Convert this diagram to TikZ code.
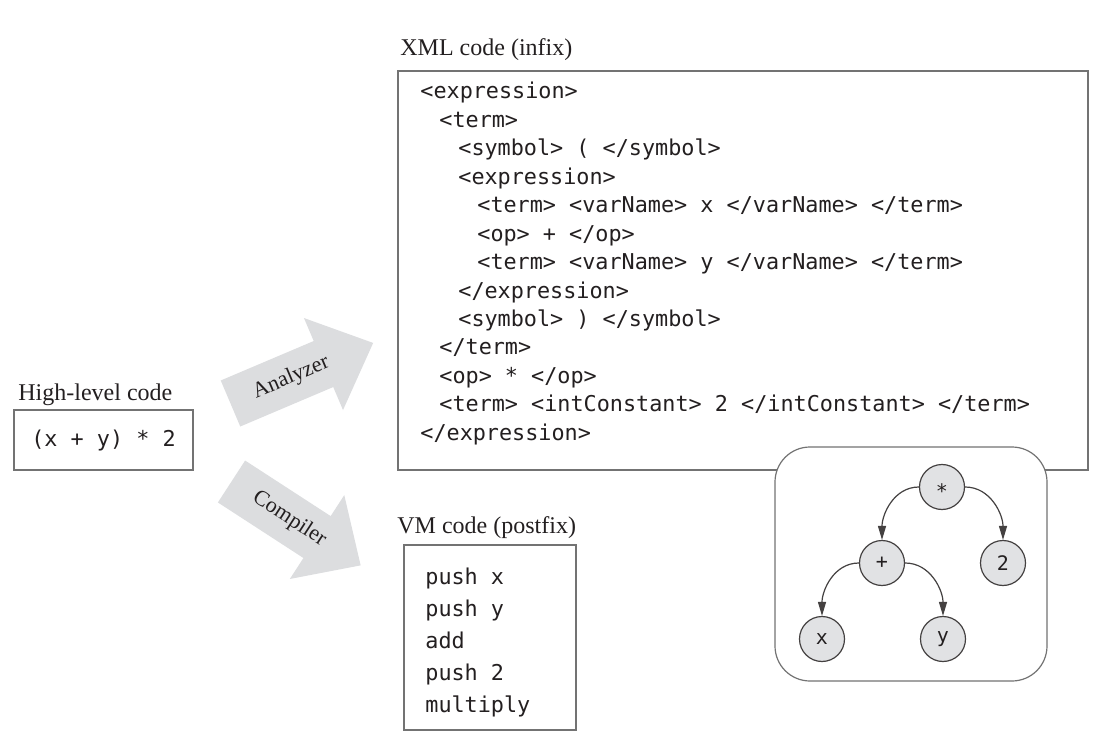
\documentclass[tikz,border=0pt]{standalone}
\usepackage{fontspec}
\setmainfont{Liberation Serif}
\newfontfamily\codefont{DejaVu Sans Mono}
\usetikzlibrary{arrows.meta}

\definecolor{boxgray}{RGB}{115,115,115}
\definecolor{arrowgray}{RGB}{220,221,223}
\definecolor{nodegray}{RGB}{225,226,228}
\definecolor{inkgray}{RGB}{35,31,32}

\tikzset{every picture/.style={line width=0.75pt}}
\tikzset{
	codebox/.style={draw=boxgray, line width=1.2pt, fill=white, inner sep=0pt},
	caption/.style={font=\fontsize{24}{28}\selectfont, text=inkgray, inner sep=0pt, anchor=base west},
	codetext/.style={font=\codefont\fontsize{21.8}{28.45}\selectfont, text=inkgray, align=left, inner sep=0pt, anchor=north west},
	treenode/.style={circle, draw=inkgray!85, fill=nodegray, line width=1.2pt, minimum size=45pt, inner sep=0pt, font=\codefont\fontsize{20}{24}\selectfont, text=inkgray},
	treeedge/.style={-{Triangle[length=14pt,width=8pt]}, draw=inkgray!85, line width=1.2pt},
	bigarrow/.style={fill=arrowgray},
	arrowlabel/.style={font=\fontsize{22}{26}\selectfont, text=inkgray, inner sep=0pt}
}

\begin{document}
\begin{tikzpicture}[x=1pt,y=-1pt]
	\useasboundingbox (0,0) rectangle (1109,743);

	% High-level code
	\node[caption] (hlcap) at (18,400) {High-level code};
	\node[codebox, minimum width=179pt, minimum height=60pt, font=\codefont\fontsize{21.8}{26}\selectfont, text=inkgray] (hlbox) at (103.5,440) {(x + y) * 2};

	% XML code
	\node[caption] (xmlcap) at (400,56) {XML code (infix)};
	\node[codebox, minimum width=690pt, minimum height=399pt] (xmlbox) at (743,270.5) {};
	\node[codetext] (xmltext) at (420,82) {%
		<expression>\\
		\hspace*{19pt}<term>\\
		\hspace*{38pt}<symbol> ( </symbol>\\
		\hspace*{38pt}<expression>\\
		\hspace*{57pt}<term> <varName> x </varName> </term>\\
		\hspace*{57pt}<op> + </op>\\
		\hspace*{57pt}<term> <varName> y </varName> </term>\\
		\hspace*{38pt}</expression>\\
		\hspace*{38pt}<symbol> ) </symbol>\\
		\hspace*{19pt}</term>\\
		\hspace*{19pt}<op> * </op>\\
		\hspace*{19pt}<term> <intConstant> 2 </intConstant> </term>\\
		</expression>};

	% VM code
	\node[caption] (vmcap) at (397,533) {VM code (postfix)};
	\node[codebox, minimum width=172pt, minimum height=185pt] (vmbox) at (490,637.5) {};
	\node[codetext, font=\codefont\fontsize{21.8}{32}\selectfont] (vmtext) at (425,568) {%
		push x\\
		push y\\
		add\\
		push 2\\
		multiply};

	% Analyzer arrow
	\begin{scope}[shift={(230.5,403.5)}, rotate=23]
		\fill[bigarrow] (0,25) -- (101,25) -- (101,50) -- (155,0) -- (101,-50) -- (101,-25) -- (0,-25) -- cycle;
		\node[arrowlabel, rotate=23] (analyzer) at (66,0) {Analyzer};
	\end{scope}

	% Compiler arrow
	\begin{scope}[shift={(231.5,481.5)}, rotate=-33]
		\fill[bigarrow] (0,25) -- (102,25) -- (102,50) -- (154,0) -- (102,-50) -- (102,-25) -- (0,-25) -- cycle;
		\node[arrowlabel, rotate=-33] (compiler) at (69,0) {Compiler};
	\end{scope}

	% Parse tree
	\node[codebox, rounded corners=35pt, minimum width=272pt, minimum height=234pt] (treebox) at (911,564) {};
	\node[treenode] (star) at (942,487) {\raisebox{-4pt}[\height][0pt]{*}};
	\node[treenode] (plus) at (882,563) {+};
	\node[treenode] (two) at (1003,563) {2};
	\node[treenode] (xleaf) at (822,639) {x};
	\node[treenode] (yleaf) at (943,639) {y};

	\draw[treeedge] (star.west) to[out=180,in=90] (plus.north);
	\draw[treeedge] (star.east) to[out=0,in=90] (two.north);
	\draw[treeedge] (plus.west) to[out=180,in=90] (xleaf.north);
	\draw[treeedge] (plus.east) to[out=0,in=90] (yleaf.north);

\end{tikzpicture}
\end{document}
